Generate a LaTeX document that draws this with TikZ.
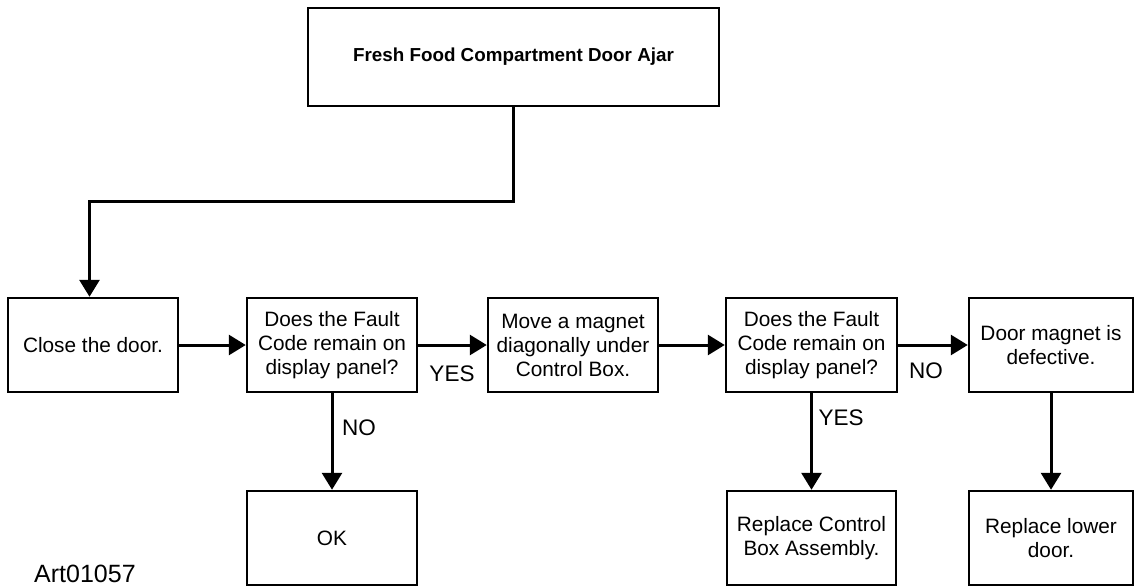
\documentclass[tikz,border=0pt]{standalone}
\usepackage{fontspec}
\setmainfont{Liberation Sans}
\usetikzlibrary{arrows.meta}
\tikzset{
  box/.style={draw, line width=2.5pt, rectangle, inner sep=0pt, align=center,
    font=\fontsize{20.8}{24}\selectfont},
  arr/.style={line width=3pt, -{Triangle[length=17pt,width=20pt]}},
  lbl/.style={font=\fontsize{22.5}{26}\selectfont, inner sep=0pt},
}
\begin{document}
\begin{tikzpicture}[x=1pt,y=-1pt]
\useasboundingbox[fill=white] (0,0) rectangle (1134,586);
% title
\node[box, minimum width=411pt, minimum height=98pt,
  font=\fontsize{18.8}{22}\selectfont\bfseries] (title) at (513.5,57) {Fresh Food Compartment Door Ajar};
% middle row
\node[box, minimum width=170pt, minimum height=94pt] (close) at (93,345) {Close the door.};
\node[box, minimum width=170pt, minimum height=94pt] (q1) at (332,345) {Does the Fault\\Code remain on\\display panel?};
\node[box, minimum width=170pt, minimum height=94pt] (move) at (573,345) {Move a magnet\\diagonally under\\Control Box.};
\node[box, minimum width=171pt, minimum height=94pt] (q2) at (811.5,345) {Does the Fault\\Code remain on\\display panel?};
\node[box, minimum width=164pt, minimum height=94pt] (defect) at (1051,345) {Door magnet is\\defective.};
% bottom row
\node[box, minimum width=170pt, minimum height=94pt] (ok) at (332,538) {OK};
\node[box, minimum width=169pt, minimum height=94pt] (rcb) at (811.5,538) {Replace Control\\Box Assembly.};
\node[box, minimum width=164pt, minimum height=94pt] (rld) at (1051,538) {Replace lower\\door.};
% connectors
\coordinate (bend) at (89.5,201);
\draw[arr] (title.south) |- (bend) -- (bend |- close.north);
\draw[arr] (close.east) -- (q1.west);
\draw[arr] (q1.east) -- (move.west);
\draw[arr] (move.east) -- (q2.west);
\draw[arr] (q2.east) -- (defect.west);
\draw[arr] (q1.south) -- (ok.north);
\draw[arr] (q2.south) -- (rcb.north);
\draw[arr] (defect.south) -- (rld.north);
% labels
\node[lbl] (yes1) at (452,374) {YES};
\node[lbl] (no1) at (926,371) {NO};
\node[lbl] (no2) at (359,428) {NO};
\node[lbl] (yes2) at (841,418) {YES};
\node[font=\fontsize{25}{28}\selectfont, anchor=base west, inner sep=0pt] (art) at (34,582) {Art01057};
\end{tikzpicture}
\end{document}
